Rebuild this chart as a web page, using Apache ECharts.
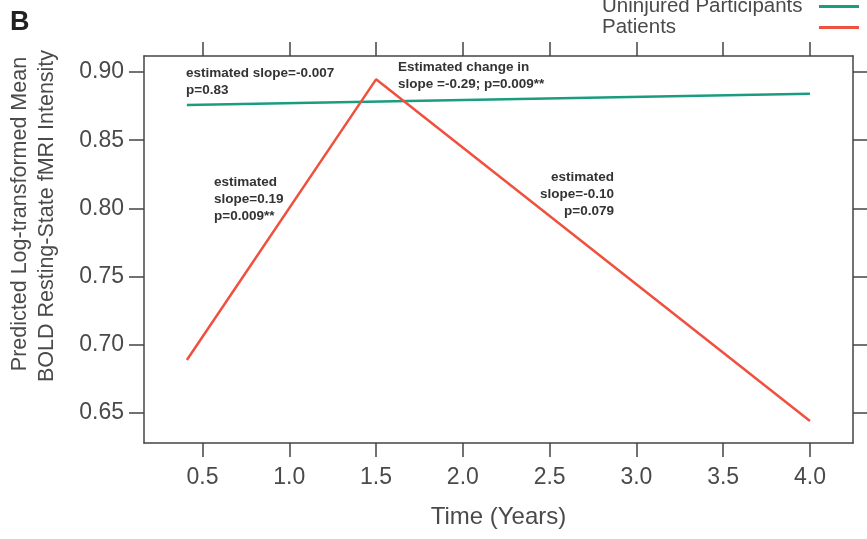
<!DOCTYPE html>
<html>
<head>
<meta charset="utf-8">
<script src="https://cdn.jsdelivr.net/npm/echarts@6/dist/echarts.min.js"></script>
<style>
  html, body { margin: 0; padding: 0; background: #fff; }
  #chart { width: 867px; height: 539px; }
</style>
</head>
<body>
<div id="chart"></div>
<script>
// data
const uninjuredX = [0.41, 4.0];
const uninjuredY = [0.8758, 0.8840];
const patientsX = [0.41, 1.5, 4.0];
const patientsY = [0.6888, 0.8946, 0.6442];
const xTicks = [0.5, 1.0, 1.5, 2.0, 2.5, 3.0, 3.5, 4.0];
const yTicks = [0.65, 0.70, 0.75, 0.80, 0.85, 0.90];

const axisColor = '#444';
const textColor = '#4a4a4a';
const font = 'Liberation Sans, Arial, sans-serif';

const chart = echarts.init(document.getElementById('chart'));

function pairs(xs, ys) {
  return xs.map((x, i) => [x, ys[i]]);
}

const xBase = {
  type: 'value',
  min: 0.163,
  max: 4.248,
  splitLine: { show: false },
  axisLine: { show: true, onZero: false, lineStyle: { color: axisColor, width: 1.5 } },
  axisTick: { show: true, length: 14, customValues: xTicks, lineStyle: { color: axisColor, width: 1.5 } }
};
const yBase = {
  type: 'value',
  min: 0.628,
  max: 0.9117,
  splitLine: { show: false },
  axisLine: { show: true, onZero: false, lineStyle: { color: axisColor, width: 1.5 } },
  axisTick: { show: true, length: 15, customValues: yTicks, lineStyle: { color: axisColor, width: 1.5 } }
};

const annoStyle = { fontFamily: font, fontWeight: 'bold', fontSize: 13.5, fill: '#333', lineHeight: 17 };
const yTitleStyle = { fontFamily: font, fontSize: 21.5, fill: textColor, align: 'center', verticalAlign: 'middle' };

const option = {
  animation: false,
  grid: { left: 144, right: 14, top: 56, bottom: 96 },
  legend: {
    orient: 'vertical',
    right: 8,
    top: -4,
    padding: 0,
    align: 'right',
    itemGap: 0,
    itemWidth: 40,
    itemHeight: 3,
    icon: 'rect',
    formatter: name => '{a|' + name + '}',
    textStyle: {
      rich: {
        a: { fontFamily: font, fontSize: 20.5, color: textColor, lineHeight: 18.5, width: 212, align: 'left' }
      }
    },
    data: ['Uninjured Participants', 'Patients']
  },
  xAxis: [
    Object.assign({}, xBase, {
      position: 'bottom',
      name: 'Time (Years)',
      nameLocation: 'middle',
      nameGap: 62,
      nameTextStyle: { fontFamily: font, fontSize: 24, color: textColor },
      axisLabel: {
        customValues: xTicks,
        margin: 23,
        fontFamily: font,
        fontSize: 23,
        color: textColor,
        formatter: v => v.toFixed(1)
      }
    }),
    Object.assign({}, xBase, { position: 'top', axisLabel: { show: false } })
  ],
  yAxis: [
    Object.assign({}, yBase, {
      position: 'left',
      axisLabel: {
        customValues: yTicks,
        margin: 20,
        fontFamily: font,
        fontSize: 23,
        color: textColor,
        formatter: v => v.toFixed(2)
      }
    }),
    Object.assign({}, yBase, { position: 'right', axisLabel: { show: false } })
  ],
  series: [
    {
      name: 'Uninjured Participants',
      type: 'line',
      showSymbol: false,
      color: '#1a9c80',
      lineStyle: { width: 2.5 },
      data: pairs(uninjuredX, uninjuredY)
    },
    {
      name: 'Patients',
      type: 'line',
      showSymbol: false,
      color: '#f0503e',
      lineStyle: { width: 2.5 },
      data: pairs(patientsX, patientsY)
    }
  ],
  graphic: [
    { type: 'text', left: 10, top: 9, style: { text: 'B', fontFamily: font, fontWeight: 'bold', fontSize: 27, fill: '#222' } },
    // y axis title, two rotated lines
    { type: 'text', x: 20, y: 214, rotation: Math.PI / 2, style: Object.assign({ text: 'Predicted Log-transformed Mean' }, yTitleStyle) },
    { type: 'text', x: 47, y: 216, rotation: Math.PI / 2, style: Object.assign({ text: 'BOLD Resting-State fMRI Intensity' }, yTitleStyle) },
    // annotations
    { type: 'text', x: 186, y: 65, style: Object.assign({ text: 'estimated slope=-0.007\np=0.83' }, annoStyle) },
    { type: 'text', x: 398, y: 59, style: Object.assign({ text: 'Estimated change in\nslope =-0.29; p=0.009**' }, annoStyle) },
    { type: 'text', x: 214, y: 174, style: Object.assign({ text: 'estimated\nslope=0.19\np=0.009**' }, annoStyle) },
    { type: 'text', x: 614, y: 169, style: Object.assign({ text: 'estimated\nslope=-0.10\np=0.079', align: 'right' }, annoStyle) }
  ]
};

chart.setOption(option);
</script>
</body>
</html>
